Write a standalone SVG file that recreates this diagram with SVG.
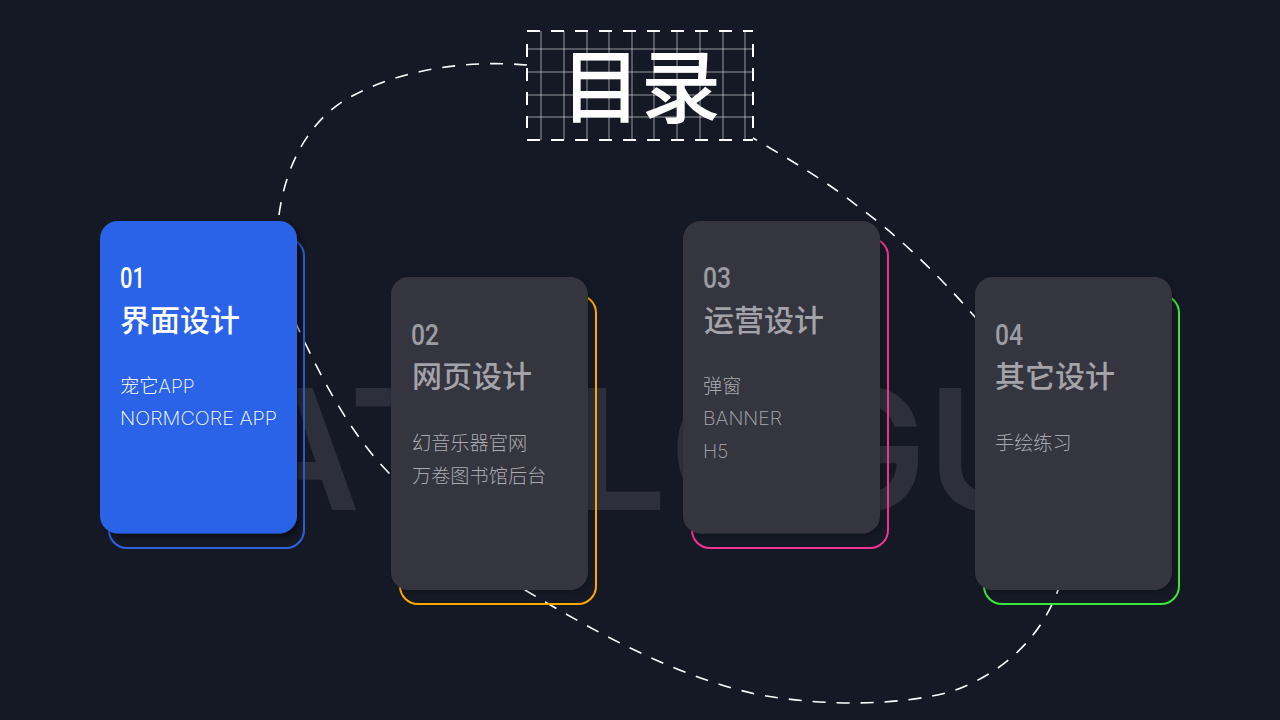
<svg xmlns="http://www.w3.org/2000/svg" width="1280" height="720" viewBox="0 0 1280 720">
<defs>
<filter id="sh" x="-20%" y="-20%" width="140%" height="140%"><feDropShadow dx="2" dy="2" stdDeviation="3" flood-color="#000" flood-opacity="0.25"/></filter>
<filter id="sb" x="-20%" y="-20%" width="140%" height="140%"><feDropShadow dx="4" dy="3" stdDeviation="3" flood-color="#000" flood-opacity="0.5"/></filter>
</defs>
<style>
.bgt{font-family:"Inter","Liberation Sans",sans-serif;font-size:168px;font-weight:600;fill:#2d2f3b}
.grid{stroke:#fff;stroke-opacity:.55;stroke-width:1;fill:none}
.dash{stroke:#fff;stroke-width:1.6;fill:none;stroke-dasharray:13 11}
.fr{stroke-width:2}
.card{fill:#363641;filter:url(#sh)}
.o{fill:none;stroke-width:2}
.num{font-family:"Roboto","Liberation Sans",sans-serif;font-size:30px;font-weight:500;fill:#9c9ca3}
.tt{font-family:"Noto Sans CJK SC",sans-serif;font-size:30px;font-weight:500;fill:#a3a3a9}
.bd{font-family:"Inter","Noto Sans CJK SC",sans-serif;font-size:19.200px;font-weight:200;fill:#a9a9af}
.w{fill:#fff}
</style>
<rect width="1280" height="720" fill="#151925"/>
<text class="bgt" y="510"><tspan x="120">C</tspan><tspan x="238">A</tspan><tspan x="349">T</tspan><tspan x="470">A</tspan><tspan x="572">L</tspan><tspan x="669">O</tspan><tspan x="801">G</tspan><tspan x="927">U</tspan><tspan x="1070">E</tspan></text>
<g id="connectors">
<path class="dash" d="M527 65C470 60 400 68 345 100C305 125 285 170 279 215C279 260 285 300 298 328C320 375 350 435 392 476C440 530 490 570 525 590C600 635 680 678 760 695C830 707 900 705 950 692C1000 675 1040 640 1058 590C1060 500 1020 370 975 317C930 265 890 230 860 208C825 180 790 160 753 138"/>
</g>
<g id="title">
<path class="grid" d="M541 31V140M564 31V140M587 31V140M609 31V140M632 31V140M654 31V140M677 31V140M700 31V140M723 31V140M745 31V140M527 49H753M527 72H753M527 95H753M527 117H753"/>
<path class="dash fr" d="M527 31H753M527 140H753M527 44V128M753 44V128"/>
<text x="641" y="116" text-anchor="middle" font-family="'Noto Sans CJK SC',sans-serif" font-size="80" font-weight="500" fill="#fff">目录</text>
</g>
<g id="node-01">
<rect class="o" x="109" y="238" width="195" height="310" rx="18" stroke="#2d63e0"/>
<rect x="100" y="221" width="197" height="312.500" rx="18" fill="#2b63e8" filter="url(#sb)"/>
<text class="num w" x="120" y="288" textLength="25" lengthAdjust="spacingAndGlyphs">01</text>
<text class="tt w" x="120" y="331">界面设计</text>
<text class="bd w" x="120" y="393">宠它APP</text>
<text class="bd w" x="120" y="425" textLength="157" lengthAdjust="spacingAndGlyphs">NORMCORE APP</text>
</g>
<g id="node-02">
<rect class="o" x="400" y="295" width="196" height="309" rx="18" stroke="#ffa800"/>
<rect class="card" x="391" y="277" width="197" height="313" rx="18"/>
<text class="num" x="411" y="345" textLength="28" lengthAdjust="spacingAndGlyphs">02</text>
<text class="tt" x="412" y="387">网页设计</text>
<text class="bd" x="412" y="450">幻音乐器官网</text>
<text class="bd" x="412" y="483">万卷图书馆后台</text>
</g>
<g id="node-03">
<rect class="o" x="692" y="238" width="196" height="310" rx="18" stroke="#f0348f"/>
<rect class="card" x="683" y="221" width="197" height="312.500" rx="18"/>
<text class="num" x="703" y="288" textLength="28" lengthAdjust="spacingAndGlyphs">03</text>
<text class="tt" x="704" y="331">运营设计</text>
<text class="bd" x="703" y="393">弹窗</text>
<text class="bd" x="703" y="425" textLength="79" lengthAdjust="spacingAndGlyphs">BANNER</text>
<text class="bd" x="703" y="458">H5</text>
</g>
<g id="node-04">
<rect class="o" x="984" y="295" width="195" height="309" rx="18" stroke="#38e83a"/>
<rect class="card" x="975" y="277" width="197" height="313" rx="18"/>
<text class="num" x="995" y="345" textLength="28" lengthAdjust="spacingAndGlyphs">04</text>
<text class="tt" x="995" y="387">其它设计</text>
<text class="bd" x="995" y="450">手绘练习</text>
</g>
</svg>
